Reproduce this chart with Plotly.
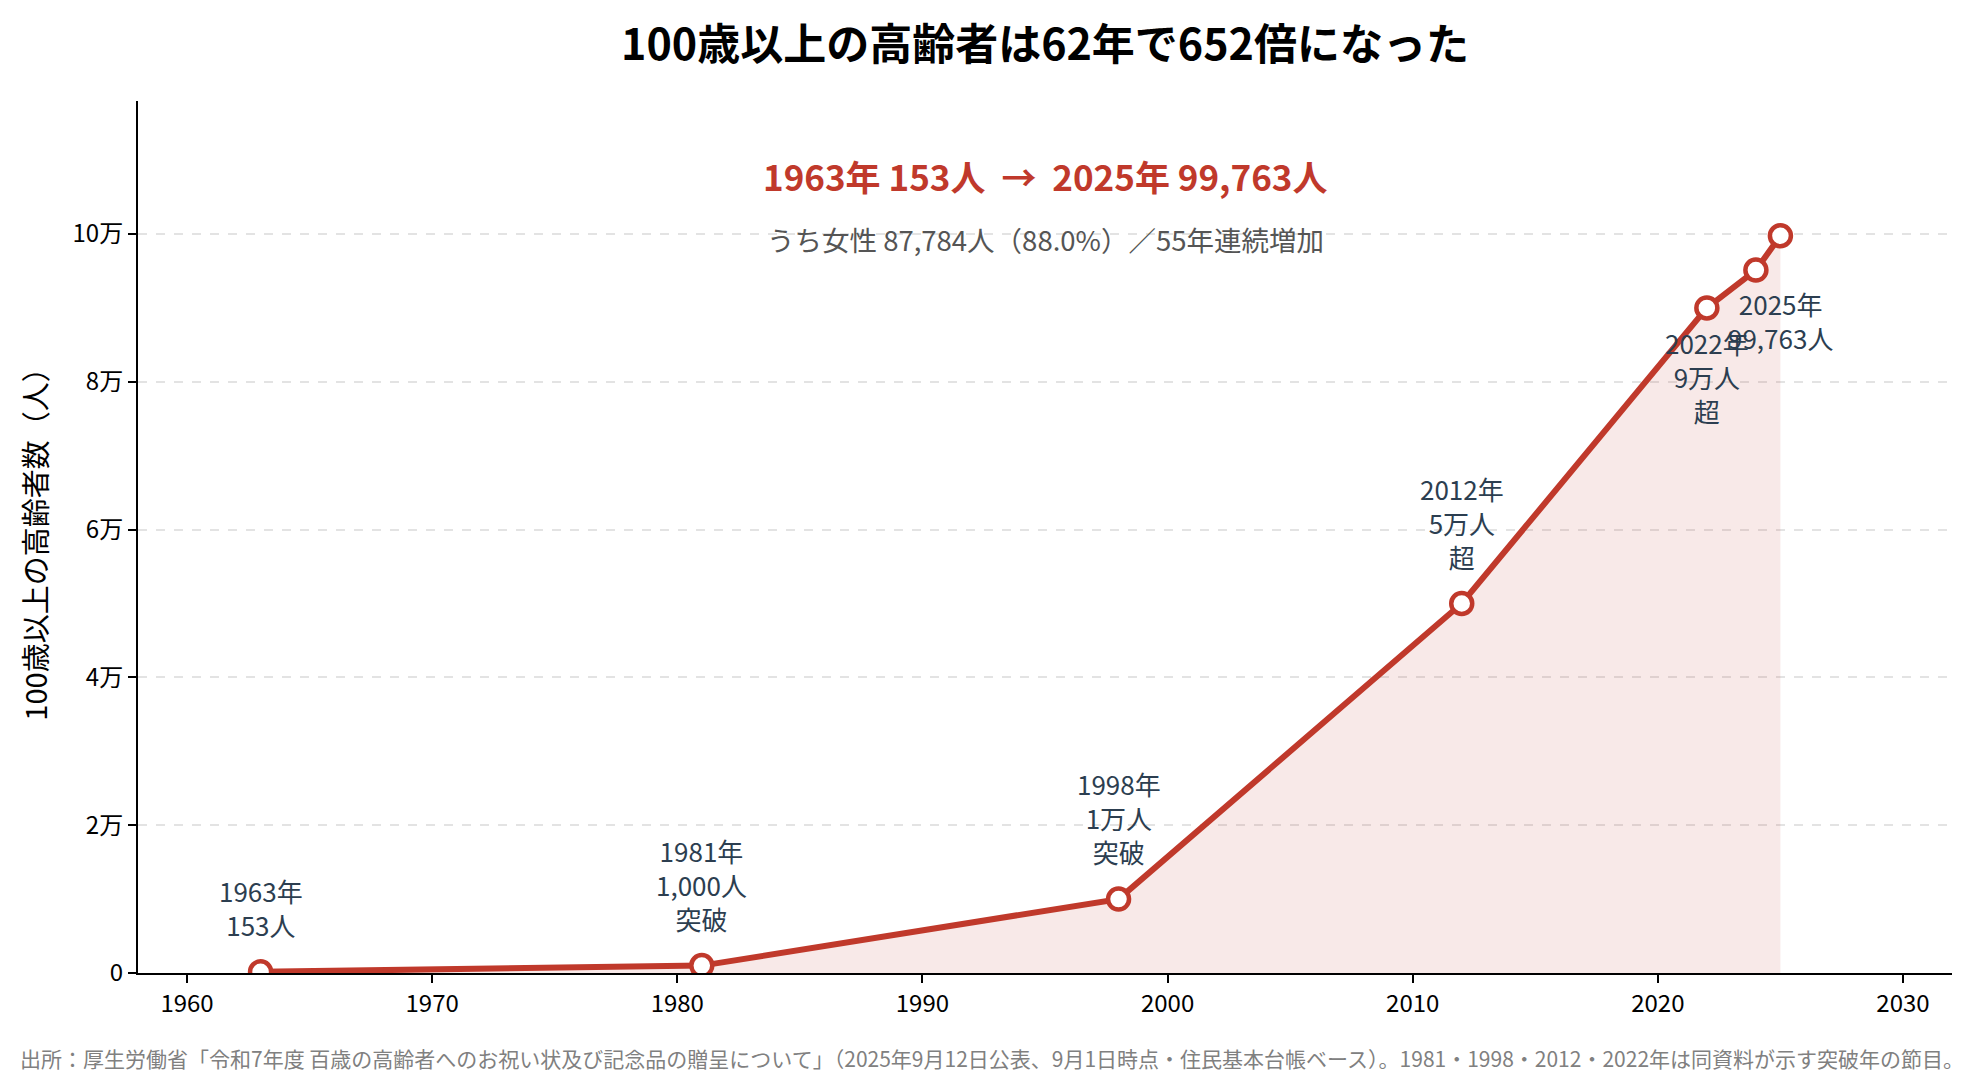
import plotly.graph_objects as go

# data: number of people aged 100+ (milestone years)
years = [1963, 1981, 1998, 2012, 2022, 2024, 2025]
people = [153, 1000, 10000, 50000, 90000, 95119, 99763]

label_years = [1963, 1981, 1998, 2012, 2022, 2025]
label_texts = ["1963年<br>153人", "1981年<br>1,000人<br>突破", "1998年<br>1万人<br>突破",
               "2012年<br>5万人<br>超", "2022年<br>9万人<br>超", "2025年<br>99,763人"]

y_ticks = [0, 20000, 40000, 60000, 80000, 100000]
y_tick_labels = ["0", "2万", "4万", "6万", "8万", "10万"]
x_ticks = [1960, 1970, 1980, 1990, 2000, 2010, 2020, 2030]

title = "100歳以上の高齢者は62年で652倍になった"
headline = "1963年 153人\u00a0 →\u00a0 2025年 99,763人"
subline = "うち女性 87,784人（88.0%）／55年連続増加"
source = ("出所：厚生労働省「令和7年度 百歳の高齢者へのお祝い状及び記念品の贈呈について」"
          "（2025年9月12日公表、9月1日時点・住民基本台帳ベース）。"
          "1981・1998・2012・2022年は同資料が示す突破年の節目。")

RED = "#c0392b"
FONT = "Noto Sans CJK JP"

# plot area in figure pixels (page body adds 8px offset)
L, R, T, B = 130, 36, 93, 115
PW, PH = 1980 - L - R, 1080 - T - B

fig = go.Figure()

# shaded area under the line
fig.add_trace(go.Scatter(x=years, y=people, mode="lines", fill="tozeroy",
                         fillcolor="rgba(192,57,43,0.11)",
                         line=dict(color="rgba(192,57,43,0.10)", width=2),
                         hoverinfo="skip", showlegend=False))

fig.add_trace(go.Scatter(x=years, y=people, mode="lines+markers",
                         line=dict(color=RED, width=6),
                         marker=dict(size=21, color="white", line=dict(color=RED, width=4.5)),
                         showlegend=False))

# point labels (above, except the crowded top-right ones)
below_shift = {2022: -14, 2025: -47}
for yr, txt in zip(label_years, label_texts):
    val = people[years.index(yr)]
    if yr in below_shift:
        fig.add_annotation(x=yr, y=val, text=txt, showarrow=False, yanchor="top",
                           yshift=below_shift[yr], font=dict(size=26, color="#2c3e50"))
    else:
        fig.add_annotation(x=yr, y=val, text=txt, showarrow=False, yanchor="bottom",
                           yshift=27, font=dict(size=26, color="#2c3e50"))

fig.add_annotation(xref="paper", yref="paper", x=0.5, y=(1080 - B - 167) / PH,
                   text="<b>" + headline + "</b>", showarrow=False, yanchor="middle",
                   font=dict(size=35, color=RED))
fig.add_annotation(xref="paper", yref="paper", x=0.5, y=(1080 - B - 231) / PH,
                   text=subline, showarrow=False, yanchor="middle",
                   font=dict(size=27.5, color="#555555"))
fig.add_annotation(xref="paper", yref="paper", x=(10 - L) / PW, y=(1080 - B - 1050) / PH,
                   text=source, showarrow=False, xanchor="left", yanchor="middle",
                   font=dict(size=21, color="#808080"))

fig.update_layout(
    width=1980, height=1080,
    margin=dict(l=L, r=R, t=T, b=B),
    paper_bgcolor="white", plot_bgcolor="white",
    font=dict(family=FONT, color="black"),
    title=dict(text="<b>" + title + "</b>", x=0.5, xref="paper", y=1 - 37 / 1080,
               yanchor="middle", font=dict(size=43, color="black")),
    xaxis=dict(range=[1958, 2032], tickvals=x_ticks, showgrid=False, zeroline=False,
               showline=True, linecolor="black", linewidth=2, ticks="outside",
               ticklen=8, tickwidth=2, tickcolor="black", tickfont=dict(size=24)),
    yaxis=dict(range=[0, 118000], tickvals=y_ticks, ticktext=y_tick_labels,
               showgrid=True, gridcolor="#e3e3e3", griddash="dash", gridwidth=1.5,
               zeroline=False, showline=True, linecolor="black", linewidth=2,
               ticks="outside", ticklen=8, tickwidth=2, tickcolor="black",
               tickfont=dict(size=24),
               title=dict(text="100歳以上の高齢者数（人）", font=dict(size=29), standoff=16)),
)

fig.write_html("out.html")
